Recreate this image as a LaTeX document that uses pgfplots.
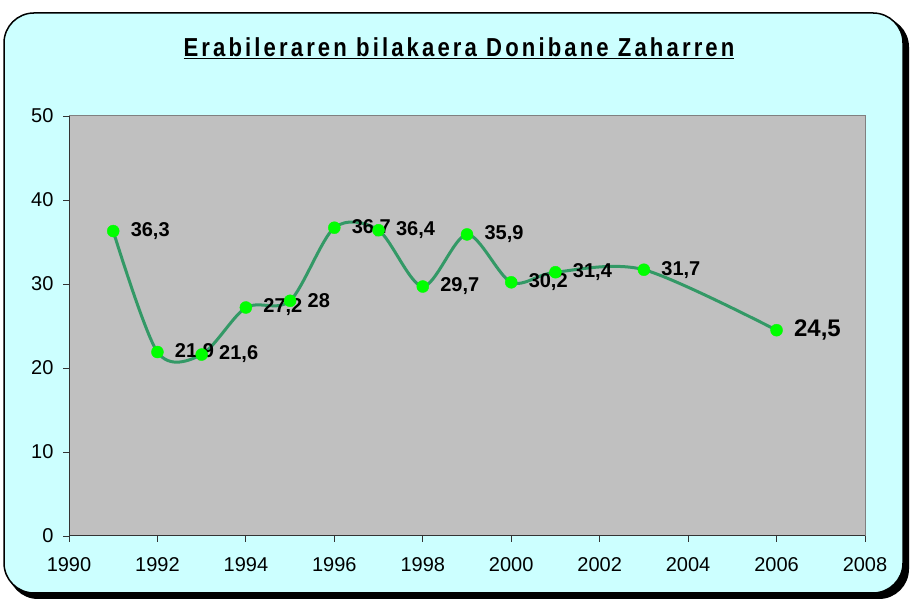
\documentclass[border=0pt]{standalone}
\usepackage{pgfplots}
\pgfplotsset{compat=1.18}
\usepackage{fontspec}
\setmainfont{Liberation Sans}
\newfontfamily\titlefont[LetterSpace=12, FakeStretch=0.85]{Liberation Sans}
\definecolor{bgcyan}{HTML}{CCFFFF}
\definecolor{plotgray}{HTML}{C0C0C0}
\definecolor{linegreen}{HTML}{339966}
\definecolor{markgreen}{HTML}{00FF00}
\begin{document}
\begin{tikzpicture}[x=1pt,y=1pt]
\useasboundingbox (0,0) rectangle (911,601);
\fill[black, rounded corners=30pt] (8,2) rectangle (909,584);
\draw[black, line width=1.5pt, fill=bgcyan, rounded corners=30pt] (4,8) rectangle (903,588);
\node[anchor=base, inner sep=0pt, font=\titlefont\bfseries\fontsize{26}{28}\selectfont] at (459,544) {\underline{Erabileraren bilakaera Donibane Zaharren}};
\begin{axis}[
  at={(69pt,65pt)}, anchor=south west,
  scale only axis, width=796pt, height=420pt,
  xmin=1990, xmax=2008, ymin=0, ymax=50,
  xtick={1990,1992,...,2008}, ytick={0,10,...,50},
  axis x line*=bottom, axis y line*=left,
  axis line style={color=black!80, line width=1pt},
  tick align=outside, major tick length=6pt,
  tick style={color=black!80, line width=0.8pt},
  xticklabel style={font=\fontsize{20}{22}\selectfont, yshift=-12pt},
  yticklabel style={font=\fontsize{20}{22}\selectfont, xshift=-6pt},
  /pgf/number format/assume math mode=true,
  /pgf/number format/1000 sep={},
  axis background/.style={fill=plotgray},
  clip=false,
]
\draw[color=black!50, line width=1pt] (rel axis cs:0,1) -- (rel axis cs:1,1) -- (rel axis cs:1,0);
\addplot[color=linegreen, line width=3pt, smooth, tension=0.5] coordinates {
(1991,36.3) (1992,21.9) (1993,21.6) (1994,27.2) (1995,28) (1996,36.7) (1997,36.4) (1998,29.7) (1999,35.9) (2000,30.2) (2001,31.4) (2003,31.7) (2006,24.5)};
\addplot[only marks, mark=*, mark size=6pt, mark options={fill=markgreen, draw=markgreen},
  nodes near coords={\pgfplotspointmeta},
  point meta=explicit symbolic,
  nodes near coords style={font=\fontsize{20}{22}\selectfont\bfseries, anchor=west, xshift=14pt, text=black}]
  coordinates {
(1991,36.3) [36,3] (1992,21.9) [21,9] (1993,21.6) [21,6] (1994,27.2) [27,2] (1995,28) [28] (1996,36.7) [36,7] (1997,36.4) [36,4] (1998,29.7) [29,7] (1999,35.9) [35,9] (2000,30.2) [30,2] (2001,31.4) [31,4] (2003,31.7) [31,7]};
\addplot[only marks, mark=*, mark size=6pt, mark options={fill=markgreen, draw=markgreen},
  nodes near coords={\pgfplotspointmeta},
  point meta=explicit symbolic,
  nodes near coords style={font=\fontsize{24}{26}\selectfont\bfseries, anchor=west, xshift=14pt, text=black}]
  coordinates {(2006,24.5) [24,5]};
\end{axis}
\end{tikzpicture}
\end{document}
